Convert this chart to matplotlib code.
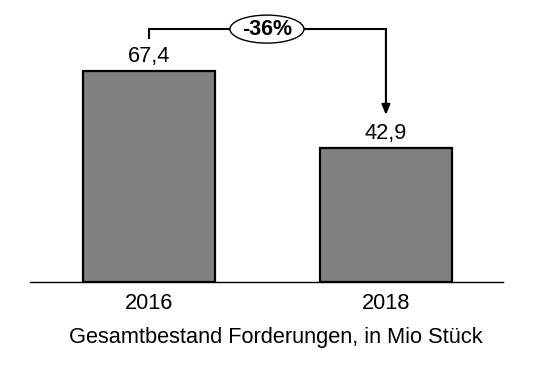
import matplotlib
matplotlib.use("Agg")
import matplotlib.pyplot as plt
from matplotlib.patches import Ellipse

plt.rcParams['font.family'] = ['Liberation Sans', 'DejaVu Sans']

categories = ["2016", "2018"]
values = [67.4, 42.9]
value_labels = ["67,4", "42,9"]
change_label = "-36%"
xlabel = "Gesamtbestand Forderungen, in Mio Stück"

W, H = 534, 367
fig = plt.figure(figsize=(W / 100, H / 100), dpi=100)
ax = fig.add_axes([30 / W, 85 / H, 473 / W, 282 / H])

x = list(range(len(categories)))
ax.bar(x, values, width=0.557, color="#808080", edgecolor="black", linewidth=1.6, zorder=2)
ax.set_xlim(-0.502, 1.494)
ax.set_ylim(0, 90.1)

for s in ["top", "right", "left"]:
    ax.spines[s].set_visible(False)
ax.spines["bottom"].set_linewidth(1.0)
ax.set_yticks([])
ax.set_xticks(x)
ax.set_xticklabels(categories, fontsize=15.7)
ax.tick_params(axis="x", length=0, pad=8)

for xi, v, lab in zip(x, values, value_labels):
    ax.annotate(lab, (xi, v), xytext=(0, 3), textcoords="offset points",
                ha="center", va="bottom", fontsize=15.7)

# bracket with arrow
top = max(values) + 13.4
ax.plot([x[0], x[0], x[1]], [values[0] + 10.6, top, top], color="black", lw=1.5,
        solid_joinstyle="miter", zorder=3)
ax.annotate("", xy=(x[1], values[1] + 10.5), xytext=(x[1], top),
            arrowprops=dict(arrowstyle="-|>,head_length=0.6,head_width=0.25",
                            color="black", lw=1.5, shrinkA=0, shrinkB=0))
ex = (267 - 149) / 237
ax.add_patch(Ellipse((ex, top), width=74 / 237, height=28 / 3.13,
                     facecolor="white", edgecolor="black", lw=1.0, zorder=4))
ax.text(ex, top, change_label, ha="center", va="center", fontsize=15.5,
        fontweight="bold", zorder=5)

fig.text(276 / W, 1 - 338 / H, xlabel, ha="center", va="center", fontsize=15.7)

fig.savefig("out.png", dpi=100)
